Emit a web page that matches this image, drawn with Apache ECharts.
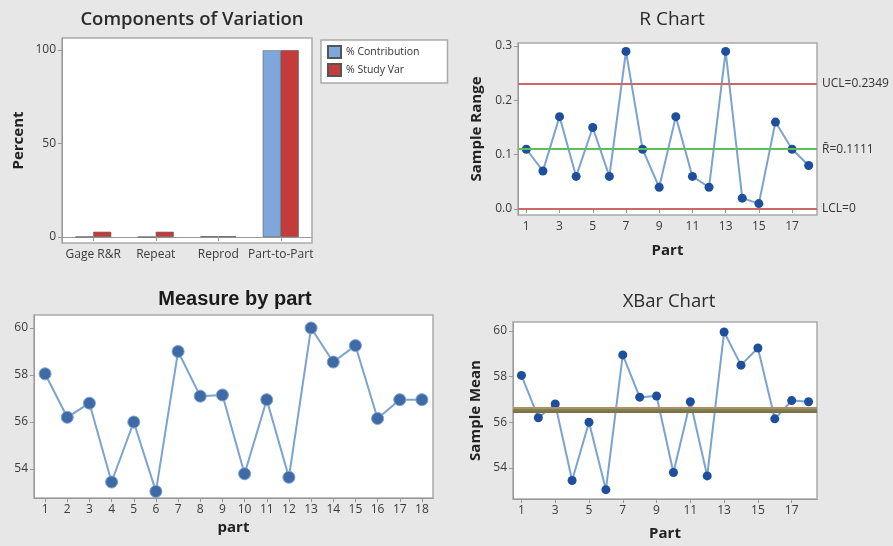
<!DOCTYPE html>
<html><head><meta charset="utf-8">
<script src="https://cdn.jsdelivr.net/npm/echarts@6/dist/echarts.min.js"></script>
<style>html,body{margin:0;padding:0;background:#e7e7e7}#c{width:893px;height:546px}</style>
</head><body><div id="c"></div>
<script>
// Components of variation
const compCategories = ['Gage R&R', 'Repeat', 'Reprod', 'Part-to-Part'];
const pctContribution = [0.2, 0.1, 0.4, 99.8];
const pctStudyVar = [2.8, 2.8, 0.4, 99.9];
const compTicks = [0, 50, 100];

// Parts
const parts = ['1','2','3','4','5','6','7','8','9','10','11','12','13','14','15','16','17','18'];

// R chart
const sampleRange = [0.11, 0.07, 0.17, 0.06, 0.15, 0.06, 0.29, 0.11, 0.04, 0.17, 0.06, 0.04, 0.29, 0.02, 0.01, 0.16, 0.11, 0.08];
const rTicks = [0, 0.1, 0.2, 0.3];
const rUCL = 0.2349, rBar = 0.1111, rLCL = 0;

// Measure by part
const measureByPart = [58.05, 56.2, 56.8, 53.45, 56.0, 53.05, 59.0, 57.1, 57.15, 53.8, 56.95, 53.65, 60.0, 58.55, 59.25, 56.15, 56.95, 56.95];
const measureTicks = [54, 56, 58, 60];

// XBar chart
const sampleMean = [58.05, 56.2, 56.8, 53.45, 56.0, 53.05, 58.95, 57.1, 57.15, 53.8, 56.9, 53.65, 59.95, 58.5, 59.25, 56.15, 56.95, 56.9];
const xUCL = 56.64, xBar = 56.55, xLCL = 56.46;

const chart = echarts.init(document.getElementById('c'));
const font = 'Open Sans';
const lab = {color: '#3a3a3a', fontSize: 12, fontFamily: font};
const nameSt = {color: '#222', fontSize: 15, fontWeight: 'bold', fontFamily: font};
const gridBase = {show: true, backgroundColor: '#fff', borderColor: '#aaa', borderWidth: 1.5, containLabel: false};
const axLine = {show: true, lineStyle: {color: '#999', width: 1}};
const tick = {show: true, length: 4, lineStyle: {color: '#999'}};
const lineColor = '#7aa3cf';
const markerColor = '#1d4f9c';

function catAxis(gi, name, interval, gap) {
  return {type: 'category', gridIndex: gi, data: gi === 0 ? compCategories : parts, boundaryGap: true,
    axisLine: axLine, axisTick: Object.assign({alignWithLabel: true, interval: interval}, tick),
    axisLabel: Object.assign({interval: interval, margin: 6}, lab),
    name: name, nameLocation: 'middle', nameGap: gap, nameTextStyle: nameSt};
}
function valAxis(gi, min, max, ticks, name, gap, fmt) {
  return {type: 'value', gridIndex: gi, min: min, max: max, splitLine: {show: false},
    axisLine: axLine,
    axisTick: Object.assign({customValues: ticks}, tick),
    axisLabel: Object.assign({customValues: ticks, margin: 6, formatter: fmt}, lab),
    name: name, nameLocation: 'middle', nameGap: gap, nameTextStyle: nameSt};
}
function hline(v, color, labelText) {
  return {yAxis: v, lineStyle: {color: color, width: 2, type: 'solid'},
    label: labelText ? {show: true, position: 'end', formatter: labelText, color: '#333', fontSize: 12, fontFamily: font, distance: 5} : {show: false}};
}

chart.setOption({
  animation: false,
  backgroundColor: '#e7e7e7',
  title: [
    {text: 'Components of Variation', left: 187, top: 5, textAlign: 'center', textStyle: {fontSize: 18.5, fontWeight: 600, color: '#2a2a2a', fontFamily: font}},
    {text: 'R Chart', left: 667, top: 5, textAlign: 'center', textStyle: {fontSize: 19, fontWeight: 500, color: '#2a2a2a', fontFamily: font}},
    {text: 'Measure by part', left: 230, top: 284, textAlign: 'center', textStyle: {fontSize: 20, fontWeight: 'bold', color: '#1a1a1a', fontFamily: 'Liberation Sans'}},
    {text: 'XBar Chart', left: 664, top: 287, textAlign: 'center', textStyle: {fontSize: 18.5, fontWeight: 500, color: '#2a2a2a', fontFamily: font}}
  ],
  legend: {data: ['% Contribution', '% Study Var'], orient: 'vertical', left: 321, top: 40,
    backgroundColor: '#fff', borderColor: '#aaa', borderWidth: 1.5, padding: [5, 28, 6, 6], itemGap: 4,
    icon: 'rect', itemWidth: 13, itemHeight: 12, textStyle: {fontSize: 10.5, color: '#333', fontFamily: font}},
  grid: [
    Object.assign({left: 62, top: 38, width: 250, height: 205}, gridBase),
    Object.assign({left: 518, top: 43, width: 299, height: 172}, gridBase),
    Object.assign({left: 34, top: 315, width: 399, height: 183}, gridBase),
    Object.assign({left: 513, top: 322, width: 304, height: 177}, gridBase)
  ],
  xAxis: [
    catAxis(0, '', 0, 20),
    catAxis(1, 'Part', 1, 28),
    catAxis(2, 'part', 0, 22),
    catAxis(3, 'Part', 1, 27)
  ],
  yAxis: [
    valAxis(0, -3.2, 106.4, compTicks, 'Percent', 36),
    valAxis(1, -0.011, 0.3055, rTicks, 'Sample Range', 34, v => v.toFixed(1)),
    valAxis(2, 52.77, 60.55, measureTicks, '', 30),
    valAxis(3, 52.64, 60.39, measureTicks, 'Sample Mean', 30)
  ],
  series: [
    {name: '% Contribution', type: 'bar', xAxisIndex: 0, yAxisIndex: 0, data: pctContribution, barWidth: 18, barGap: '0%',
      itemStyle: {color: '#7ea8dc', borderColor: '#555', borderWidth: 0.6}},
    {name: '% Study Var', type: 'bar', xAxisIndex: 0, yAxisIndex: 0, data: pctStudyVar, barWidth: 18, barGap: '0%',
      itemStyle: {color: '#c43b3b', borderColor: '#555', borderWidth: 0.6}},
    {type: 'line', xAxisIndex: 1, yAxisIndex: 1, data: sampleRange, symbol: 'circle', symbolSize: 9,
      lineStyle: {color: lineColor, width: 2}, itemStyle: {color: markerColor},
      markLine: {silent: true, symbol: 'none', data: [hline(rUCL, '#cc6a68', 'UCL=0.2349'), hline(rBar, '#5cbf5c', 'R\u0304=0.1111'), hline(rLCL, '#cc6a68', 'LCL=0')]}},
    {type: 'line', xAxisIndex: 2, yAxisIndex: 2, data: measureByPart, symbol: 'circle', symbolSize: 12,
      lineStyle: {color: lineColor, width: 2}, itemStyle: {color: '#3f6aa6', borderColor: '#7aa3cf', borderWidth: 1}},
    {type: 'line', xAxisIndex: 3, yAxisIndex: 3, data: sampleMean, symbol: 'circle', symbolSize: 9,
      lineStyle: {color: lineColor, width: 2}, itemStyle: {color: markerColor}, z: 3,
      markLine: {silent: true, symbol: 'none', data: [hline(xUCL, '#b98a6a'), hline(xLCL, '#8a6a4a'), hline(xBar, '#6a8a4a')]}}
  ]
});
</script></body></html>
